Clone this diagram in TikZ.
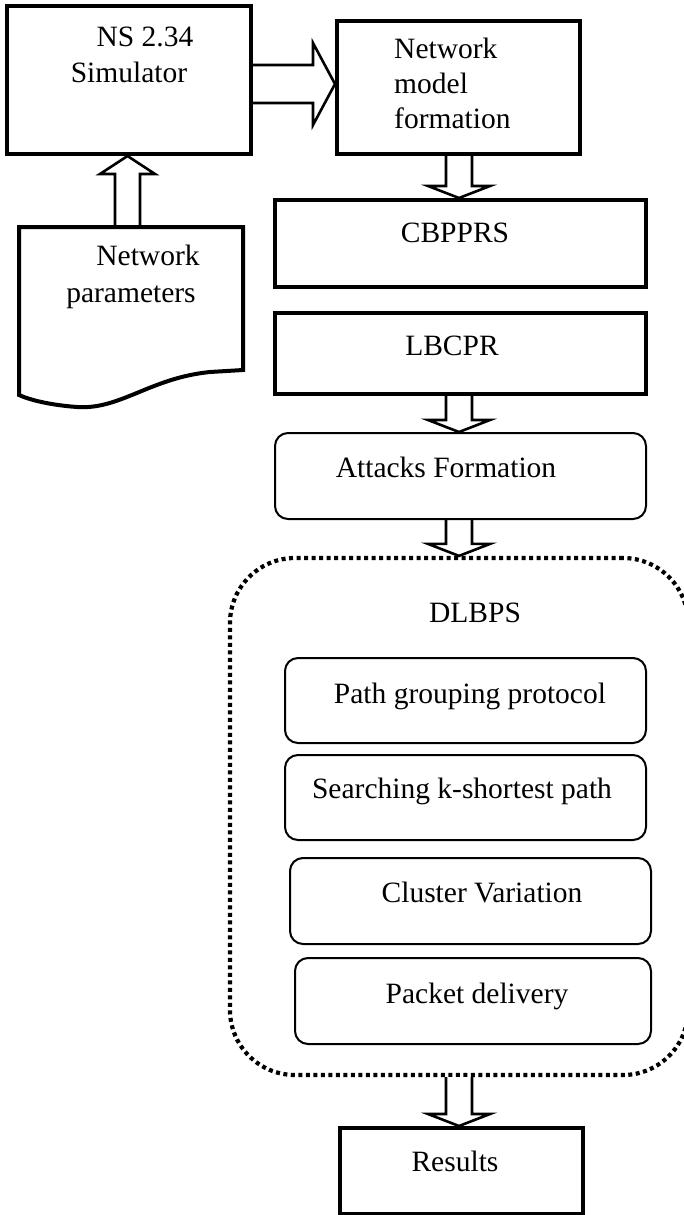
\documentclass[tikz,border=0pt]{standalone}
\usepackage{fontspec}
\setmainfont{Liberation Serif}
\usetikzlibrary{calc}
\pgfdeclarelayer{bg}
\pgfsetlayers{bg,main}
\tikzset{
  thickbox/.style={draw, line width=4pt, inner sep=0pt},
  roundbox/.style={draw, line width=2pt, rounded corners=13pt, inner sep=0pt},
  blockarrow/.style={draw, fill=white, line width=2.6pt, line join=miter},
  lbl/.style={anchor=base, inner sep=0pt, font=\fontsize{29.5}{35}\selectfont},
  dotbound/.style={draw, line width=4.2pt, dash pattern=on 4pt off 3.5pt, rounded corners=65pt}
}
\newcommand\blockdown[2]{%
  \filldraw[blockarrow] let \p1=(#1), \p2=(#2) in
   ({\x1-13pt},\y1) -- ({\x1-13pt},{\y2+12pt}) -- ({\x1-31pt},{\y2+12pt}) -- (\x1,\y2)
   -- ({\x1+31pt},{\y2+12pt}) -- ({\x1+13pt},{\y2+12pt}) -- ({\x1+13pt},\y1);}
\begin{document}
\begin{tikzpicture}[x=1pt,y=-1pt]
\useasboundingbox (0,0) rectangle (683,1215);
% boxes
\node[thickbox, minimum width=244pt, minimum height=148pt] (ns) at (129,80) {};
\node[thickbox, minimum width=243pt, minimum height=133pt] (nm) at (458.5,87.5) {};
\node[thickbox, minimum width=371pt, minimum height=87pt] (cb) at (460.5,243.5) {};
\node[thickbox, minimum width=371pt, minimum height=81pt] (lb) at (460.5,353.5) {};
\node[roundbox, minimum width=371pt, minimum height=86pt] (af) at (460.5,476) {};
\node[roundbox, minimum width=361pt, minimum height=85pt] (pg) at (465.5,700.5) {};
\node[roundbox, minimum width=361pt, minimum height=85pt] (sk) at (465.5,797.5) {};
\node[roundbox, minimum width=361pt, minimum height=86pt] (cv) at (470.5,901) {};
\node[roundbox, minimum width=356pt, minimum height=86pt] (pd) at (473,1001) {};
\node[thickbox, minimum width=243pt, minimum height=86pt] (rs) at (461.5,1171) {};
% dotted container
\node[dotbound, minimum width=458pt, minimum height=517pt] (dl) at (459,816.5) {};
% document shape
\draw[line width=4pt, line join=miter] (19,227) -- (243,227) -- (243,370) -- (210,372)
  .. controls (150,378) and (120,410) .. (77,407)
  .. controls (50,405) and (30,400) .. (19,395) -- cycle;
\coordinate (doc) at (127.5,227);
% axes for arrows
\coordinate (ax) at (459,0);
\coordinate (ay) at (0,84);
% arrows
\begin{pgfonlayer}{bg}
\filldraw[blockarrow] let \p1=(ns.east |- ay), \p2=(nm.west |- ay) in
  (\x1,{\y1+19pt}) -- ({\x2-22pt},{\y1+19pt}) -- ({\x2-22pt},{\y1+41pt}) -- (\x2,\y1)
  -- ({\x2-22pt},{\y1-41pt}) -- ({\x2-22pt},{\y1-19pt}) -- (\x1,{\y1-19pt});
\filldraw[blockarrow] let \p1=(doc), \p2=(ns.south -| doc) in
  ({\x1-12.5pt},\y1) -- ({\x1-12.5pt},{\y2-18pt}) -- ({\x1-27.5pt},{\y2-18pt}) -- (\x1,\y2)
  -- ({\x1+27.5pt},{\y2-18pt}) -- ({\x1+12.5pt},{\y2-18pt}) -- ({\x1+12.5pt},\y1);
\blockdown{nm.south -| ax}{cb.north -| ax}
\blockdown{lb.south -| ax}{af.north -| ax}
\blockdown{af.south -| ax}{dl.north -| ax}
\end{pgfonlayer}
\blockdown{dl.south -| ax}{rs.north -| ax}
% labels
\node[lbl] (t1) at (145,47) {NS 2.34};
\node[lbl] (t2) at (129,82) {Simulator};
\node[lbl] (t3) at (148,265) {Network};
\node[lbl] (t4) at (131,302) {parameters};
\node[lbl, anchor=base west] (t5) at (394,59) {Network};
\node[lbl, anchor=base west] (t6) at (394,93) {model};
\node[lbl, anchor=base west] (t7) at (394,128) {formation};
\node[lbl] (t8) at (455,242) {CBPPRS};
\node[lbl] (t9) at (452,355) {LBCPR};
\node[lbl] (t10) at (446,477) {Attacks Formation};
\node[lbl] (t11) at (475,622) {DLBPS};
\node[lbl] (t12) at (470,703) {Path grouping protocol};
\node[lbl] (t13) at (462,798) {Searching k-shortest path};
\node[lbl] (t14) at (482,902) {Cluster Variation};
\node[lbl] (t15) at (477,1003) {Packet delivery};
\node[lbl] (t16) at (455,1171) {Results};
\end{tikzpicture}
\end{document}
